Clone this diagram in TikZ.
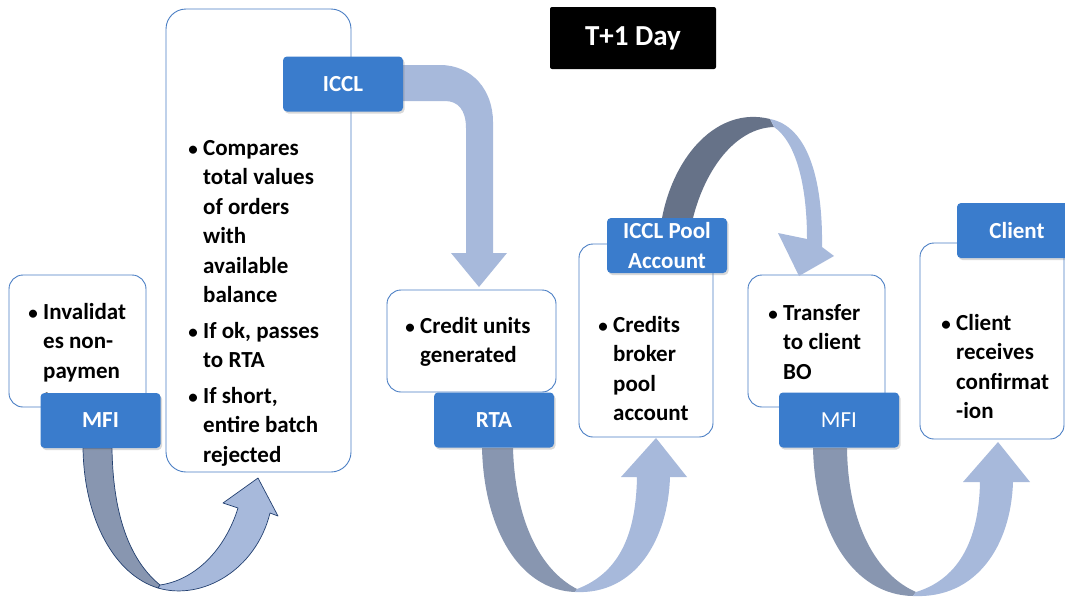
\documentclass[tikz,border=0pt]{standalone}
\usepackage{fontspec}
\setmainfont{Carlito}
\usetikzlibrary{shadows}
\definecolor{labblue}{RGB}{58,124,204}
\definecolor{boxblue}{RGB}{74,126,196}
\definecolor{lightarr}{RGB}{167,185,219}
\definecolor{darkarr}{RGB}{136,150,176}
\definecolor{deeparr}{RGB}{102,114,136}
\definecolor{navyline}{RGB}{35,64,112}
\newcommand\txtlines[4]{%
  \node[txt,font=\fontsize{19}{19}\selectfont\bfseries,anchor=base] (#3b) at ({#1-10},#2) {\textbullet};
  \foreach \lin [count=\i] in {#4}{\node[txt,anchor=base west] (#3\i) at (#1,{#2+(\i-1)*29.5}) {\lin};}}
\begin{document}
\begin{tikzpicture}[x=1pt,y=-1pt,
  txt/.style={font=\fontsize{23}{29.5}\selectfont\bfseries, inner sep=0pt, text=black},
  boxnode/.style={draw=boxblue, line width=0.9pt, fill=white, rounded corners=14pt, inner sep=0pt},
  lab/.style={fill=labblue, rounded corners=4pt, minimum width=120pt, minimum height=55pt,
    text=white, font=\fontsize{23}{29.5}\selectfont\bfseries, align=center, inner sep=0pt,
    drop shadow={opacity=0.3, shadow xshift=1.5pt, shadow yshift=-2pt}},
  lightfill/.style={fill=lightarr, draw=none},
  darkfill/.style={fill=darkarr, draw=none},
  deepfill/.style={fill=deeparr, draw=none},
  outlined/.style={draw=navyline, line width=0.7pt, line join=round}]
\useasboundingbox (0,0) rectangle (1065,600);
\clip (0,0) rectangle (1065,600);

% ---- white boxes ----
\node[boxnode, minimum width=137pt, minimum height=132pt] (boxA) at (77.5,341) {};
\node[boxnode, rounded corners=20pt, minimum width=185pt, minimum height=463pt] (boxB) at (258.5,240.5) {};
\node[boxnode, minimum width=169pt, minimum height=102pt] (boxC) at (471.5,341) {};
\node[boxnode, minimum width=134pt, minimum height=193pt] (boxD) at (646,340.5) {};
\node[boxnode, minimum width=137pt, minimum height=132pt] (boxF) at (816.5,341) {};
\node[boxnode, minimum width=144pt, minimum height=196pt] (boxE) at (992,341) {};

% ---- texts ----
\txtlines{43}{319}{tA}{Invalidat,es non-,paymen,t}
\txtlines{203}{155}{tBa}{Compares,total values,of orders,with,available,balance}
\txtlines{203}{338}{tBb}{{If ok, passes},to RTA}
\txtlines{203}{403}{tBc}{{If short,},entire batch,rejected}
\txtlines{420}{333}{tC}{Credit units,generated}
\txtlines{613}{332}{tD}{Credits,broker,pool,account}
\txtlines{783}{320}{tF}{Transfer,to client,BO}
\txtlines{956}{330}{tE}{Client,receives,confirmat,-ion}

% ---- ICCL -> RTA box bent arrow ----
\path[lightfill] (403,65) -- (440,65) .. controls (472,65) and (493,90) .. (493,122)
  -- (493,253) -- (507,253) -- (479,287) -- (451,253) -- (466,253) -- (466,128)
  .. controls (466,110) and (458,101) .. (445,101) -- (403,101) -- cycle;

% ---- ICCL Pool -> Transfer top arc ----
\path[deepfill] (662,218) .. controls (674,155) and (718,106) .. (770,119)
  -- (774,127) .. controls (735,128) and (705,170) .. (693,218) -- cycle;
\path[lightfill] (770,119) .. controls (806,126) and (823,175) .. (822,247)
  -- (834,256) -- (799,276) -- (778,233) -- (807,239)
  .. controls (807,185) and (796,142) .. (774,127) -- cycle;

% ---- MFI -> ICCL box bottom-left arrow ----
\path[darkfill, outlined] (83,448) .. controls (84,520) and (115,575) .. (158,588)
  -- (160,585) .. controls (132,562) and (113,520) .. (112,448) -- cycle;
\path[lightfill, outlined] (158,588) .. controls (202,601) and (256,570) .. (270,513)
  -- (278,516) -- (258,478) -- (223,503) -- (238,508)
  .. controls (225,550) and (195,580) .. (160,585) -- cycle;

% ---- RTA -> Credits U arrow ----
\path[darkfill] (482,448) .. controls (484,530) and (520,590) .. (575,592)
  -- (577,589) .. controls (540,570) and (515,520) .. (513,448) -- cycle;
\path[lightfill] (575,592) .. controls (635,595) and (668,540) .. (670,477)
  -- (687,477) -- (656,438) -- (621,477) -- (637,477)
  .. controls (636,530) and (622,572) .. (577,589) -- cycle;

% ---- MFI -> Client U arrow ----
\path[darkfill] (813,448) .. controls (815,535) and (855,595) .. (913,596)
  -- (916,592) .. controls (877,575) and (848,525) .. (847,448) -- cycle;
\path[lightfill] (913,596) .. controls (977,599) and (1011,545) .. (1013,482)
  -- (1030,482) -- (998,442) -- (963,482) -- (980,482)
  .. controls (979,535) and (962,578) .. (916,592) -- cycle;

% ---- labels ----
\node[lab] (mfi1) at (100.5,420.5) {MFI};
\node[lab] (iccl) at (343,84) {ICCL};
\node[lab] (rta) at (494,420) {RTA};
\node[lab] (pool) at (667,245.5) {ICCL Pool\\Account};
\node[lab, font=\fontsize{23}{29.5}\selectfont] (mfi2) at (839,420) {MFI};
\node[lab] (client) at (1017,230.5) {Client};

% ---- title ----
\node[fill=black, rounded corners=2pt, minimum width=166pt, minimum height=62pt,
  text=white, font=\fontsize{29}{32}\selectfont\bfseries, inner sep=0pt] (title) at (633,38) {T+1 Day};
\end{tikzpicture}
\end{document}
